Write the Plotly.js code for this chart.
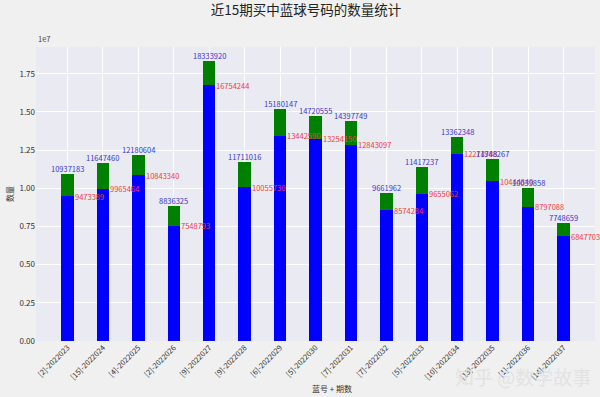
<!DOCTYPE html>
<html>
<head>
<meta charset="utf-8">
<script src="https://cdn.plot.ly/plotly-3.0.1.min.js"></script>
<style>html,body{margin:0;padding:0;background:#f0f0f0;}#chart{width:600px;height:397px;}</style>
</head>
<body>
<div id="chart"></div>
<script>
const categories = ["[2]-2022023","[15]-2022024","[4]-2022025","[2]-2022026","[9]-2022027","[9]-2022028","[6]-2022029","[5]-2022030","[7]-2022031","[7]-2022032","[5]-2022033","[10]-2022034","[13]-2022035","[1]-2022036","[14]-2022037"];
const totalValues = [10937183,11647460,12180604,8836325,18333920,11711016,15180147,14720555,14397749,9661962,11417237,13362348,11948267,10039858,7748659];
const blueValues = [9473389,9965464,10843340,7548793,16754244,10055730,13442590,13254150,12843097,8574284,9655062,12274788,10444840,8797088,6847703];
const yTickLabels = ["0.00","0.25","0.50","0.75","1.00","1.25","1.50","1.75"];

const font = "Noto Sans CJK SC, Noto Sans, sans-serif";
const idx = categories.map((c,i)=>i);

const traces = [
  {type:'bar', x: idx, y: totalValues, width:0.35, marker:{color:'#008000'}, hoverinfo:'skip'},
  {type:'bar', x: idx, y: blueValues, width:0.35, marker:{color:'#0000ff'}, hoverinfo:'skip'}
];

const annotations = [];
idx.forEach(i=>{
  annotations.push({x:i, y:totalValues[i], xref:'x', yref:'y', text:String(totalValues[i]), showarrow:false, xanchor:'center', yanchor:'bottom', yshift:-2, font:{family:font, size:7.5, color:'#3838c8'}});
  annotations.push({x:i+0.175, y:blueValues[i], xref:'x', yref:'y', text:String(blueValues[i]), showarrow:false, xanchor:'left', yanchor:'middle', xshift:-1, font:{family:font, size:7.5, color:'#f03a3a'}});
});
annotations.push({x:0, y:1, xref:'paper', yref:'paper', text:'1e7', showarrow:false, xanchor:'left', yanchor:'bottom', yshift:1, font:{family:font, size:7.5, color:'#444'}});
annotations.push({x:0.53, y:0, xref:'paper', yref:'paper', text:'蓝号 + 期数', showarrow:false, xanchor:'center', yanchor:'top', yshift:-40, font:{family:font, size:8, color:'#333'}});
annotations.push({x:1, y:0, xref:'paper', yref:'paper', text:'知乎 @数学故事', showarrow:false, xanchor:'right', yanchor:'top', xshift:-2, yshift:-20, font:{family:font, size:19, color:'rgba(225,225,225,0.9)'}});

const layout = {
  width:600, height:397,
  paper_bgcolor:'#f0f0f0', plot_bgcolor:'#eaeaf2',
  margin:{l:36, r:5, t:47, b:56},
  barmode:'overlay', bargap:0,
  showlegend:false,
  title:{text:'近15期买中蓝球号码的数量统计', x:0.51, xanchor:'center', y:0.985, yanchor:'top', font:{family:font, size:13.5, color:'#222'}},
  xaxis:{
    range:[-0.89, 14.89], tickmode:'array', tickvals:idx, ticktext:categories, tickangle:-45,
    showgrid:true, gridcolor:'#ffffff', gridwidth:1, zeroline:false, showline:false, ticks:'',
    tickfont:{family:font, size:7.5, color:'#333'}
  },
  yaxis:{
    range:[0, 19250000], tickmode:'array', tickvals:yTickLabels.map(v=>parseFloat(v)*1e7), ticktext:yTickLabels,
    showgrid:true, gridcolor:'#ffffff', gridwidth:1, zeroline:false, showline:false, ticks:'', ticklen:4,
    tickfont:{family:font, size:8, color:'#333'},
    title:{text:'数量', standoff:4, font:{family:font, size:8, color:'#333'}}
  },
  annotations: annotations
};
Plotly.newPlot('chart', traces, layout, {displayModeBar:false, staticPlot:true});
</script>
</body>
</html>
